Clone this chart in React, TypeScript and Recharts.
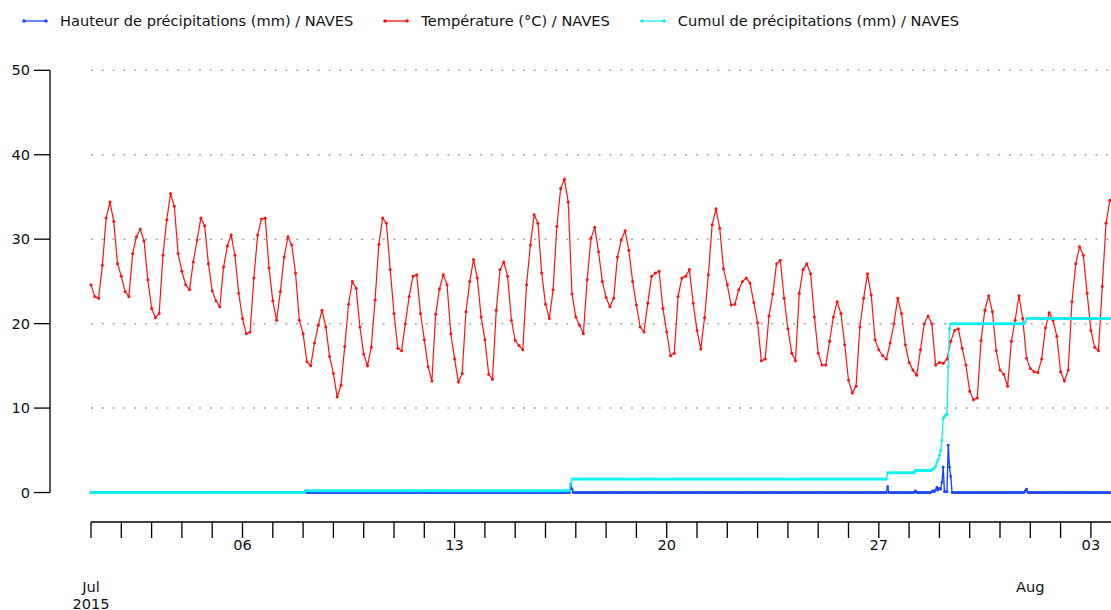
import React from 'react';
import { LineChart, Line, XAxis, YAxis, ReferenceLine } from 'recharts';

// ---------- DATA ----------
// Temperature (°C) at NAVES, every 3 hours from 1 Jul 2015 00:00
// one row per day: 00h 03h 06h 09h 12h 15h 18h 21h
const temperature3h: number[] = [
  24.6, 23.2, 23.0, 26.9, 32.5, 34.4, 32.1, 27.1, // Jul 01
  25.6, 23.8, 23.2, 28.3, 30.3, 31.2, 29.8, 25.2, // Jul 02
  21.8, 20.7, 21.2, 28.1, 32.3, 35.4, 33.9, 28.3, // Jul 03
  26.2, 24.6, 24.0, 27.3, 29.9, 32.5, 31.6, 27.1, // Jul 04
  23.9, 22.7, 22.0, 26.7, 29.2, 30.5, 28.1, 23.6, // Jul 05
  20.6, 18.8, 19.0, 25.4, 30.5, 32.4, 32.5, 26.6, // Jul 06
  22.7, 20.4, 23.8, 27.9, 30.3, 29.3, 26.0, 20.4, // Jul 07
  18.8, 15.5, 15.0, 17.7, 19.8, 21.6, 19.6, 16.1, // Jul 08
  14.1, 11.3, 12.7, 17.3, 22.3, 25.0, 24.2, 19.6, // Jul 09
  16.4, 15.0, 17.2, 22.8, 29.4, 32.5, 31.9, 26.4, // Jul 10
  21.2, 17.1, 16.8, 20.0, 23.2, 25.6, 25.8, 21.2, // Jul 11
  18.1, 14.9, 13.2, 21.1, 24.1, 25.8, 24.6, 18.8, // Jul 12
  15.8, 13.1, 14.1, 21.4, 25.0, 27.6, 25.4, 20.8, // Jul 13
  18.1, 14.0, 13.4, 21.6, 26.4, 27.3, 25.6, 20.4, // Jul 14
  18.0, 17.4, 16.9, 24.6, 29.3, 32.9, 31.9, 26.0, // Jul 15
  22.3, 20.6, 24.0, 31.5, 36.0, 37.1, 34.4, 23.5, // Jul 16
  20.8, 19.8, 18.8, 25.2, 30.1, 31.4, 28.5, 25.0, // Jul 17
  23.1, 22.0, 23.0, 27.9, 29.9, 31.0, 28.7, 25.0, // Jul 18
  22.2, 19.6, 19.0, 22.4, 25.6, 26.0, 26.2, 21.8, // Jul 19
  19.0, 16.2, 16.5, 23.2, 25.4, 25.6, 26.4, 22.4, // Jul 20
  19.2, 17.0, 20.7, 25.8, 31.7, 33.6, 31.3, 26.5, // Jul 21
  24.6, 22.2, 22.3, 24.0, 25.0, 25.4, 24.8, 22.5, // Jul 22
  20.1, 15.6, 15.8, 20.9, 23.5, 27.1, 27.5, 23.0, // Jul 23
  19.4, 16.5, 15.6, 23.6, 26.4, 27.1, 25.9, 20.8, // Jul 24
  16.5, 15.1, 15.1, 17.9, 20.8, 22.6, 21.2, 17.5, // Jul 25
  13.3, 11.8, 12.6, 19.6, 23.0, 25.9, 23.4, 18.1, // Jul 26
  16.9, 16.2, 15.8, 17.7, 20.0, 23.0, 21.2, 17.5, // Jul 27
  15.4, 14.5, 13.9, 16.9, 20.0, 20.9, 20.0, 15.1, // Jul 28
  15.4, 15.3, 15.8, 17.9, 19.2, 19.4, 17.1, 15.1, // Jul 29
  12.0, 11.0, 11.2, 18.0, 21.6, 23.3, 21.4, 16.8, // Jul 30
  14.5, 14.0, 12.6, 17.9, 20.4, 23.3, 20.6, 15.9, // Jul 31
  14.7, 14.3, 14.2, 15.8, 19.5, 21.3, 20.4, 18.5, // Aug 01
  14.3, 13.2, 14.5, 22.6, 27.1, 29.1, 28.1, 23.6, // Aug 02
  19.2, 17.2, 16.8, 24.4, 31.9, 34.6,             // Aug 03
];

// Hourly rainfall (mm): hour index since 1 Jul 00:00 -> mm (all other hours read as 0)
const rainHours: number[] = [170, 380, 381, 631, 653, 666, 667, 668, 669, 670, 671, 672, 673, 674, 675, 676, 677, 678, 679, 680, 681, 740, 741];
const rainMm: number[] = [0.2, 1.0, 0.4, 0.7, 0.2, 0.1, 0.2, 0.1, 0.3, 0.6, 0.3, 0.5, 0.4, 1.2, 3.0, 0.1, 0.1, 0.1, 5.6, 3.0, 1.9, 0.2, 0.4];

// Cumulative rainfall (mm): level reached at each hour where it changes
const cumulHours: number[] = [0, 170, 380, 381, 631, 653, 666, 667, 668, 669, 670, 671, 672, 673, 674, 675, 676, 677, 678, 679, 680, 681, 740, 741];
const cumulMm: number[] = [0, 0.2, 1.0, 1.6, 2.35, 2.6, 2.7, 2.8, 2.9, 3.1, 3.6, 3.9, 4.4, 5.0, 6.2, 8.8, 9.0, 9.2, 9.3, 14.9, 19.4, 20.0, 20.2, 20.6];

const LAST_HOUR = 807;

// x axis: one tick per day, labels on some days
const tickDays: number[] = [0, 1, 2, 3, 4, 5, 6, 7, 8, 9, 10, 11, 12, 13, 14, 15, 16, 17, 18, 19, 20, 21, 22, 23, 24, 25, 26, 27, 28, 29, 30, 31, 32, 33];
const labelDays: number[] = [5, 12, 19, 26, 33];
const labelTexts: string[] = ['06', '13', '20', '27', '03'];
const monthDays: number[] = [0, 31];
const monthTexts: string[][] = [['Jul', '2015'], ['Aug']];

const yTicks: number[] = [0, 10, 20, 30, 40, 50];
const gridValues: number[] = [10, 20, 30, 40, 50];

// ---------- series tables ----------
const tempData = temperature3h.map((v, i) => ({ h: i * 3, v }));
const rainData = Array.from({ length: LAST_HOUR + 1 }, (_, h) => {
  const k = rainHours.indexOf(h);
  return { h, v: k >= 0 ? rainMm[k] : 0 };
});
const cumulData = Array.from({ length: LAST_HOUR + 1 }, (_, h) => {
  let v = 0;
  for (let k = 0; k < cumulHours.length; k++) if (cumulHours[k] <= h) v = cumulMm[k];
  return { h, v };
});

// ---------- styles ----------
const FONT = 'DejaVu Sans, Verdana, sans-serif';
const FS = 14.6;
const BLUE = '#1c45ff';
const RED = '#ff1010';
const CYAN = '#12f0f0';

// layout of the axes (pixels -> domain)
const PX_PER_HOUR = 30.3 / 24;
const X_MIN = -41 / PX_PER_HOUR;
const X_MAX = (1111 - 91) / PX_PER_HOUR;
const Y_MIN = -3.49;

const DateTick = (props: any) => {
  const { x, y, payload } = props;
  const day = Math.round(payload.value / 24);
  const li = labelDays.indexOf(day);
  const mi = monthDays.indexOf(day);
  return (
    <g>
      {li >= 0 && (
        <text x={x} y={y} dy="0.71em" textAnchor="middle" fill="#111" fontSize={FS} fontFamily={FONT}>
          {labelTexts[li]}
        </text>
      )}
      {mi >= 0 &&
        monthTexts[mi].map((t, i) => (
          <text key={i} x={x} y={y + 52 + i * 16.5} textAnchor="middle" fill="#111" fontSize={FS} fontFamily={FONT}>
            {t}
          </text>
        ))}
    </g>
  );
};

const legendItems = [
  { label: 'Hauteur de précipitations (mm) / NAVES', color: BLUE },
  { label: 'Température (°C) / NAVES', color: RED },
  { label: 'Cumul de précipitations (mm) / NAVES', color: CYAN },
];

const LegendIcon = ({ color }: { color: string }) => (
  <svg width={26} height={8} style={{ display: 'block' }}>
    <line x1={2} y1={4} x2={24} y2={4} stroke={color} strokeWidth={1.3} />
    <circle cx={2} cy={4} r={1.8} fill={color} />
    <circle cx={24} cy={4} r={1.8} fill={color} />
  </svg>
);

export default function App() {
  return (
    <div style={{ position: 'absolute', left: 0, top: 0, width: 1111, height: 610, background: '#fff', overflow: 'hidden' }}>
      <div
        style={{
          position: 'absolute',
          left: 22,
          top: 12,
          height: 18,
          display: 'flex',
          alignItems: 'center',
          fontFamily: FONT,
          fontSize: FS,
          color: '#111',
          whiteSpace: 'nowrap',
        }}
      >
        {legendItems.map((it) => (
          <div key={it.label} style={{ display: 'flex', alignItems: 'center', marginRight: 30 }}>
            <LegendIcon color={it.color} />
            <span style={{ marginLeft: 12, lineHeight: '18px' }}>{it.label}</span>
          </div>
        ))}
      </div>
      <LineChart width={1111} height={610} margin={{ top: 70.3, right: 0, bottom: 0, left: 0 }}>
        <XAxis
          type="number"
          dataKey="h"
          domain={[X_MIN, X_MAX]}
          allowDataOverflow
          ticks={tickDays.map((d) => d * 24)}
          interval={0}
          height={88}
          stroke="#000"
          axisLine={false}
          tickSize={16}
          tickMargin={2}
          tickLine={{ stroke: '#000', strokeWidth: 1.3 }}
          tick={(p: any) => <DateTick {...p} />}
        />
        <YAxis
          type="number"
          domain={[Y_MIN, 50]}
          allowDataOverflow
          ticks={yTicks}
          interval={0}
          width={50}
          stroke="#000"
          axisLine={false}
          tickSize={16}
          tickMargin={4}
          tickLine={{ stroke: '#000', strokeWidth: 1.3 }}
          tick={{ fill: '#111', fontSize: FS, fontFamily: FONT }}
        />
        {gridValues.map((g) => (
          <ReferenceLine
            key={g}
            segment={[{ x: 0, y: g }, { x: X_MAX, y: g }]}
            stroke="#a8a8a8"
            strokeWidth={1.5}
            strokeDasharray="2 8.8"
            ifOverflow="visible"
          />
        ))}
        <ReferenceLine segment={[{ x: 0, y: Y_MIN }, { x: X_MAX, y: Y_MIN }]} stroke="#000" strokeWidth={1.3} ifOverflow="visible" />
        <ReferenceLine segment={[{ x: X_MIN, y: 0 }, { x: X_MIN, y: 50 }]} stroke="#000" strokeWidth={1.3} ifOverflow="visible" />
        <Line
          data={rainData}
          dataKey="v"
          type="linear"
          stroke={BLUE}
          strokeWidth={1.4}
          dot={{ r: 1.4, fill: BLUE, stroke: 'none' }}
          isAnimationActive={false}
        />
        <Line
          data={tempData}
          dataKey="v"
          type="linear"
          stroke={RED}
          strokeWidth={1.2}
          dot={{ r: 1.5, fill: RED, stroke: 'none' }}
          isAnimationActive={false}
        />
        <Line
          data={cumulData}
          dataKey="v"
          type="linear"
          stroke={CYAN}
          strokeWidth={1.4}
          dot={{ r: 1.5, fill: CYAN, stroke: 'none' }}
          isAnimationActive={false}
        />
      </LineChart>
    </div>
  );
}
